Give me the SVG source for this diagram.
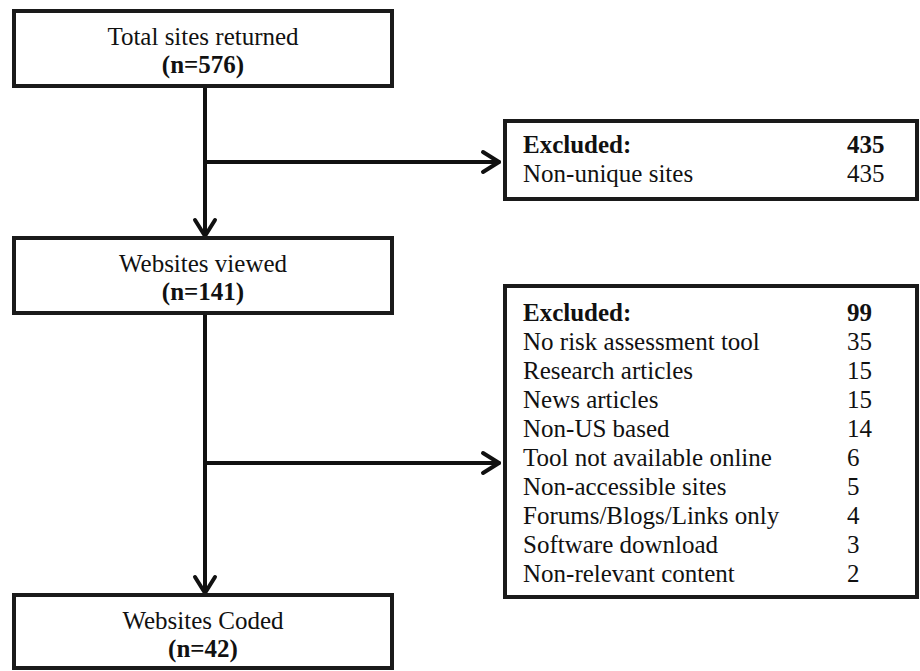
<svg xmlns="http://www.w3.org/2000/svg" width="920" height="671" viewBox="0 0 920 671">
<style>
.box{fill:#fff;stroke:#1a1a1a;stroke-width:4}
.ln{fill:none;stroke:#111;stroke-width:4;stroke-linecap:round}
text{font-family:"Liberation Serif","Times New Roman",serif;font-size:25px;fill:#111}
.c{text-anchor:middle}
.b{font-weight:bold}
</style>
<defs>
<marker id="ah" markerUnits="userSpaceOnUse" markerWidth="30" markerHeight="30" refX="20" refY="12" orient="auto" viewBox="0 0 30 24">
<path d="M4,2 L20,12 L4,22" fill="none" stroke="#111" stroke-width="4" stroke-linecap="round" stroke-linejoin="round"/>
</marker>
</defs>
<g id="connectors">
<line class="ln" x1="205" y1="86" x2="205" y2="236" marker-end="url(#ah)"/>
<line class="ln" x1="205" y1="162" x2="499" y2="162" marker-end="url(#ah)"/>
<line class="ln" x1="205" y1="313" x2="205" y2="593" marker-end="url(#ah)"/>
<line class="ln" x1="205" y1="463" x2="499" y2="463" marker-end="url(#ah)"/>
</g>
<g id="total">
<rect class="box" x="14" y="11" width="378" height="75"/>
<text class="c" x="203" y="45">Total sites returned</text>
<text class="c b" x="203" y="73">(n=576)</text>
</g>
<g id="viewed">
<rect class="box" x="14" y="238" width="378" height="75"/>
<text class="c" x="203" y="272">Websites viewed</text>
<text class="c b" x="203" y="300">(n=141)</text>
</g>
<g id="coded">
<rect class="box" x="14" y="595" width="378" height="73"/>
<text class="c" x="203" y="629">Websites Coded</text>
<text class="c b" x="203" y="657">(n=42)</text>
</g>
<g id="excluded1">
<rect class="box" x="505" y="121" width="412" height="78"/>
<text class="b" x="523" y="153">Excluded:</text>
<text class="b" x="847" y="153">435</text>
<text x="523" y="182">Non-unique sites</text>
<text x="847" y="182">435</text>
</g>
<g id="excluded2">
<rect class="box" x="505" y="286" width="412" height="311"/>
<text class="b" x="523" y="321">Excluded:</text>
<text class="b" x="847" y="321">99</text>
<text x="523" y="350">No risk assessment tool</text>
<text x="847" y="350">35</text>
<text x="523" y="379">Research articles</text>
<text x="847" y="379">15</text>
<text x="523" y="408">News articles</text>
<text x="847" y="408">15</text>
<text x="523" y="437">Non-US based</text>
<text x="847" y="437">14</text>
<text x="523" y="466">Tool not available online</text>
<text x="847" y="466">6</text>
<text x="523" y="495">Non-accessible sites</text>
<text x="847" y="495">5</text>
<text x="523" y="524">Forums/Blogs/Links only</text>
<text x="847" y="524">4</text>
<text x="523" y="553">Software download</text>
<text x="847" y="553">3</text>
<text x="523" y="582">Non-relevant content</text>
<text x="847" y="582">2</text>
</g>
</svg>
